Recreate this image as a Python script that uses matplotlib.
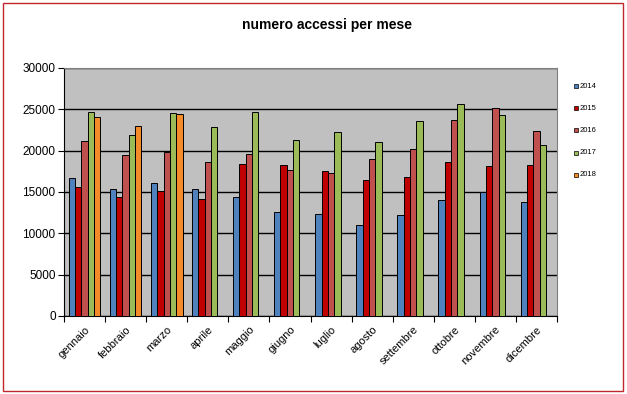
import matplotlib
matplotlib.use("Agg")
import matplotlib.pyplot as plt
from matplotlib.patches import Rectangle
import numpy as np

plt.rcParams['font.family'] = ['Liberation Sans', 'DejaVu Sans']

months = ["gennaio", "febbraio", "marzo", "aprile", "maggio", "giugno",
          "luglio", "agosto", "settembre", "ottobre", "novembre", "dicembre"]
series_names = ["2014", "2015", "2016", "2017", "2018"]
v2014 = [16650, 15320, 16050, 15320, 14360, 12540, 12300, 10970, 12180, 13990, 14960, 13750]
v2015 = [15570, 14360, 15080, 14190, 18350, 18230, 17500, 16410, 16770, 18590, 18110, 18230]
v2016 = [21170, 19440, 19880, 18590, 19560, 17620, 17260, 18950, 20160, 23670, 25120, 22380]
v2017 = [24640, 21860, 24520, 22820, 24640, 21250, 22260, 21010, 23550, 25600, 24270, 20650]
v2018 = [24070, 22940, 24400, None, None, None, None, None, None, None, None, None]
colors = ["#4F81BD", "#C00000", "#C0504D", "#9BBB59", "#F38B2A"]
title = "numero accessi per mese"

data = [v2014, v2015, v2016, v2017, v2018]

fig = plt.figure(figsize=(6.27, 3.94), dpi=100)
fig.patch.set_facecolor("white")

# outer chart border
fig.patches.append(Rectangle((3.3/627, 1-391.3/394), 619.5/627, 388/394, transform=fig.transFigure,
                             fill=False, edgecolor="#C0282D", linewidth=1.0))

ax = fig.add_axes([64/627, 1-316/394, 493/627, 248/394])
ax.set_facecolor("#C0C0C0")

n = len(series_names)
w = 1/(n + 1.5)
x = np.arange(len(months))
for j, (vals, c) in enumerate(zip(data, colors)):
    xs = [xi + 0.75*w + j*w for xi, v in zip(x, vals) if v is not None]
    ys = [v for v in vals if v is not None]
    ax.bar(xs, ys, width=w, align='edge', color=c, edgecolor='black', linewidth=0.7, zorder=3,
           label=series_names[j])

ax.set_xlim(0, len(months))
ax.set_ylim(0, 30000)
ax.set_yticks(np.arange(0, 30001, 5000))
ax.yaxis.grid(True, color='black', linewidth=1.0, zorder=1)
ax.set_axisbelow(True)

ax.set_xticks(x + 0.5)
ax.set_xticklabels(months, rotation=45, ha='right', rotation_mode='anchor', fontsize=8)
ax.set_xticks(np.arange(0, len(months)+1), minor=True)
ax.tick_params(axis='x', which='major', length=0, pad=6)
ax.tick_params(axis='x', which='minor', length=4, direction='out', width=0.8)
ax.tick_params(axis='y', labelsize=8.5, length=4, direction='out', width=0.8, pad=2)

for s in ['left', 'bottom']:
    ax.spines[s].set_color('black')
    ax.spines[s].set_linewidth(0.8)
for s in ['top', 'right']:
    ax.spines[s].set_color('#808080')
    ax.spines[s].set_linewidth(0.8)

fig.text(327/627, 1-25/394, title, ha='center', va='center', fontsize=10, fontweight='bold')

# legend
for j, (name, c) in enumerate(zip(series_names, colors)):
    yy = 1 - (86 + j*22.2)/394
    fig.patches.append(Rectangle((574/627, yy - 2/394), 4/627, 4/394, transform=fig.transFigure,
                                 facecolor=c, edgecolor='black', linewidth=0.5))
    fig.text(580/627, yy, name, fontsize=5.5, va='center', ha='left')

fig.savefig("out.png", dpi=100)
